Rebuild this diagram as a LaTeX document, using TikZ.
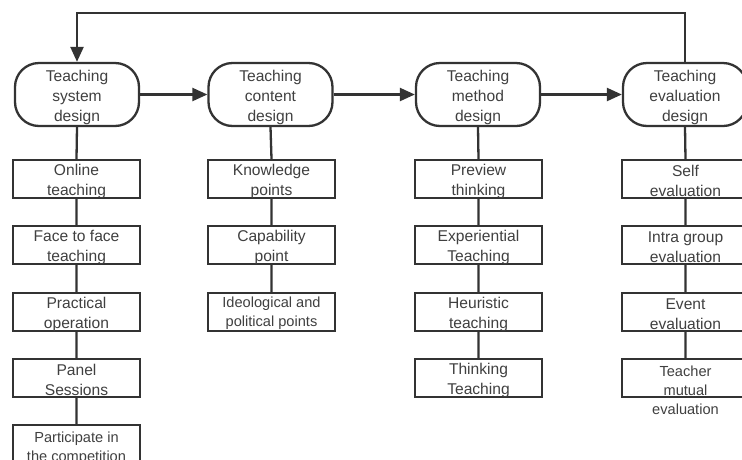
\documentclass[tikz,border=0pt]{standalone}
\usepackage{fontspec}
\setmainfont{Liberation Sans}
\usetikzlibrary{arrows.meta,calc}
\definecolor{lineC}{HTML}{333333}
\definecolor{textC}{HTML}{404040}
\begin{document}
\begin{tikzpicture}[x=1pt,y=-1pt,
  phase/.style={draw=lineC, line width=2.3pt, rectangle, rounded corners=24pt, minimum width=124pt, minimum height=63pt, inner sep=0pt},
  item/.style={draw=lineC, line width=2.3pt, rectangle, minimum width=127pt, minimum height=38pt, inner sep=0pt},
  txt/.style={text=textC, align=center, font=\fontsize{15.6}{20}\selectfont, inner sep=0pt},
  stxt/.style={txt, font=\fontsize{14.6}{19}\selectfont},
  conn/.style={draw=lineC, line width=2.3pt},
  arr/.style={conn, -{Triangle[length=15pt,width=13pt]}}
]
\clip (0,0) rectangle (742,459);
\fill[white] (0,0) rectangle (742,459);

% phase nodes
\node[phase] (p1) at (77,94.5) {};
\node[phase] (p2) at (270.5,94.5) {};
\node[phase] (p3) at (478,94.5) {};
\node[phase] (p4) at (685,94.5) {};
\node[txt] (p1t) at ([yshift=-2.5pt]p1.center) {Teaching\\system\\design};
\node[txt] (p2t) at ([yshift=-2.5pt]p2.center) {Teaching\\content\\design};
\node[txt] (p3t) at ([yshift=-2.5pt]p3.center) {Teaching\\method\\design};
\node[txt] (p4t) at ([yshift=-2.5pt]p4.center) {Teaching\\evaluation\\design};

% column 1
\node[item] (a1) at (76.5,179) {};
\node[item] (a2) at (76.5,245) {};
\node[item] (a3) at (76.5,312) {};
\node[item] (a4) at (76.5,378) {};
\node[item] (a5) at (76.5,444) {};
\node[txt] (a1t) at ([yshift=-2pt]a1.center) {Online\\teaching};
\node[txt] (a2t) at ([yshift=-2pt]a2.center) {Face to face\\teaching};
\node[txt] (a3t) at ([yshift=-2pt]a3.center) {Practical\\operation};
\node[txt] (a4t) at ([yshift=-2pt]a4.center) {Panel\\Sessions};
\node[stxt] (a5t) at ([yshift=-4pt]a5.center) {Participate in\\the competition};

% column 2
\node[item] (b1) at (271.5,179) {};
\node[item] (b2) at (271.5,245) {};
\node[item] (b3) at (271.5,312) {};
\node[txt] (b1t) at ([yshift=-2pt]b1.center) {Knowledge\\points};
\node[txt] (b2t) at ([yshift=-2pt]b2.center) {Capability\\point};
\node[stxt] (b3t) at ([yshift=-1.5pt]b3.center) {Ideological and\\political points};

% column 3
\node[item] (c1) at (478.5,179) {};
\node[item] (c2) at (478.5,245) {};
\node[item] (c3) at (478.5,312) {};
\node[item] (c4) at (478.5,378) {};
\node[txt] (c1t) at ([yshift=-2pt]c1.center) {Preview\\thinking};
\node[txt] (c2t) at ([yshift=-2pt]c2.center) {Experiential\\Teaching};
\node[txt] (c3t) at ([yshift=-2pt]c3.center) {Heuristic\\teaching};
\node[txt] (c4t) at ([yshift=-2pt]c4.center) {Thinking\\Teaching};

% column 4
\node[item] (d1) at (685.5,179) {};
\node[item] (d2) at (685.5,245) {};
\node[item] (d3) at (685.5,312) {};
\node[item] (d4) at (685.5,378) {};
\node[txt] (d1t) at ([yshift=-2pt]d1.center) {Self\\evaluation};
\node[txt] (d2t) at ([yshift=-2pt]d2.center) {Intra group\\evaluation};
\node[txt] (d3t) at ([yshift=-2pt]d3.center) {Event\\evaluation};
\node[stxt] (d4t) at ([yshift=-12pt]d4.center) {Teacher\\mutual\\evaluation};

% horizontal arrows
\draw[arr] (p1.east) -- (p2.west);
\draw[arr] (p2.east) -- (p3.west);
\draw[arr] (p3.east) -- (p4.west);

% feedback loop
\coordinate (topy) at (0,13);
\draw[arr] (p4.north) -- (p4.north |- topy) -| (p1.north);

% vertical connectors
\draw[conn] (p1.south) -- (a1.north) (a1.south) -- (a2.north) (a2.south) -- (a3.north) (a3.south) -- (a4.north) (a4.south) -- (a5.north);
\draw[conn] (p2.south) -- (b1.north) (b1.south) -- (b2.north) (b2.south) -- (b3.north);
\draw[conn] (p3.south) -- (c1.north) (c1.south) -- (c2.north) (c2.south) -- (c3.north) (c3.south) -- (c4.north);
\draw[conn] (p4.south) -- (d1.north) (d1.south) -- (d2.north) (d2.south) -- (d3.north) (d3.south) -- (d4.north);
\end{tikzpicture}
\end{document}
